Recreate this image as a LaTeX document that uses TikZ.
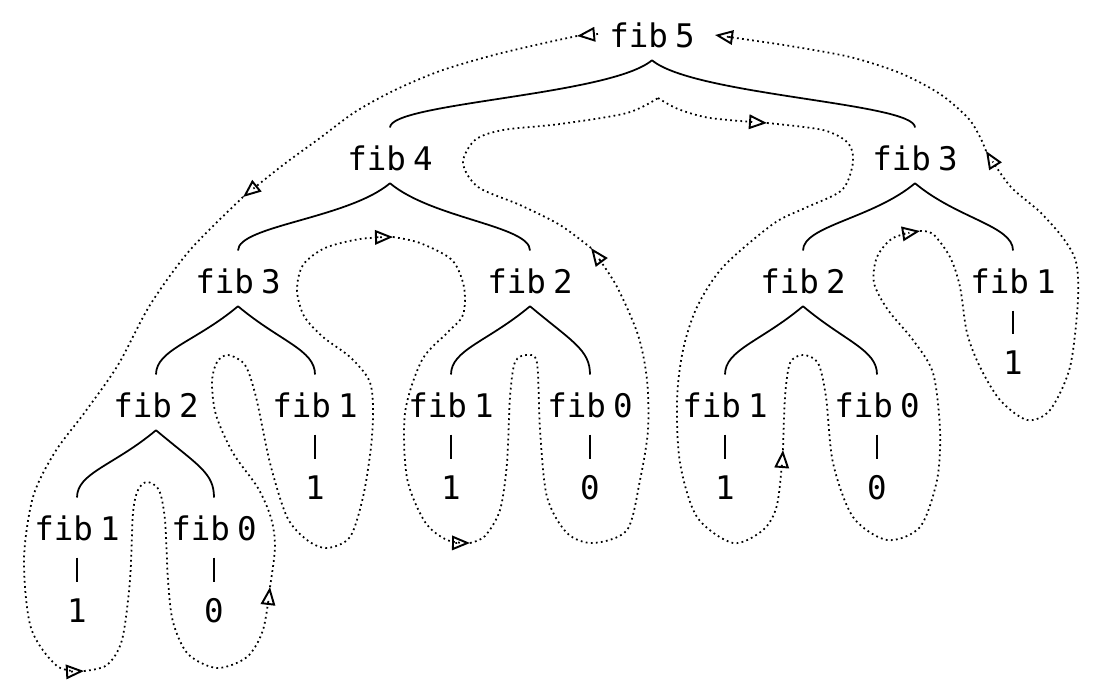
\documentclass[tikz,border=0pt]{standalone}
\usepackage{fontspec}
\setmonofont{DejaVu Sans Mono}
\usepackage{tikz}
\usetikzlibrary{arrows.meta}
\newcommand{\fib}[1]{fib\kern.22em\relax#1}

\tikzset{
  call/.style={font=\ttfamily\fontsize{18.5}{22}\selectfont, inner xsep=0pt, inner ysep=7pt},
  val/.style={call},
  brace/.style={line width=1pt, in=90, out distance=1.1cm, in distance=0.6cm, shorten >=3pt},
  bar/.style={line width=1pt, shorten <=2.5pt, shorten >=2.5pt},
  trace/.style={dash pattern=on 1pt off 1.9pt, line width=1pt,
    -{Triangle[open,length=3.6mm,width=2.9mm,line width=1.1pt]}}
}

\begin{document}
\begin{tikzpicture}[x=0.02cm,y=-0.02cm]
  \useasboundingbox (0,0) rectangle (1097,697);
  % calls
  \node[call] (t) at (652,35) {\fib{5}};
  \node[call] (tl) at (390,158) {\fib{4}};
  \node[call] (tr) at (915,158) {\fib{3}};
  \node[call] (tll) at (238,281) {\fib{3}};
  \node[call] (tlr) at (530,281) {\fib{2}};
  \node[call] (trl) at (803,281) {\fib{2}};
  \node[call] (trr) at (1013,281) {\fib{1}};
  \node[call] (tlll) at (156,405) {\fib{2}};
  \node[call] (tllr) at (315,405) {\fib{1}};
  \node[call] (tlrl) at (451,405) {\fib{1}};
  \node[call] (tlrr) at (590,405) {\fib{0}};
  \node[call] (trll) at (725,405) {\fib{1}};
  \node[call] (trlr) at (877,405) {\fib{0}};
  \node[call] (tllll) at (77,528) {\fib{1}};
  \node[call] (tlllr) at (214,528) {\fib{0}};
  % values
  \node[val] (vtrr) at (1013,363) {1};
  \node[val] (vtllr) at (315,488) {1};
  \node[val] (vtlrl) at (451,488) {1};
  \node[val] (vtlrr) at (590,488) {0};
  \node[val] (vtrll) at (725,488) {1};
  \node[val] (vtrlr) at (877,488) {0};
  \node[val] (vtllll) at (77,611) {1};
  \node[val] (vtlllr) at (214,611) {0};

  % branches
  \draw[brace] (t.south) to[out=-140] (tl.north);
  \draw[brace] (t.south) to[out=-40] (tr.north);
  \draw[brace] (tl.south) to[out=-140] (tll.north);
  \draw[brace] (tl.south) to[out=-40] (tlr.north);
  \draw[brace] (tr.south) to[out=-140] (trl.north);
  \draw[brace] (tr.south) to[out=-40] (trr.north);
  \draw[brace] (tll.south) to[out=-140] (tlll.north);
  \draw[brace] (tll.south) to[out=-40] (tllr.north);
  \draw[brace] (tlr.south) to[out=-140] (tlrl.north);
  \draw[brace] (tlr.south) to[out=-40] (tlrr.north);
  \draw[brace] (trl.south) to[out=-140] (trll.north);
  \draw[brace] (trl.south) to[out=-40] (trlr.north);
  \draw[brace] (tlll.south) to[out=-140] (tllll.north);
  \draw[brace] (tlll.south) to[out=-40] (tlllr.north);
  \draw[bar] (trr) -- (vtrr);
  \draw[bar] (tllr) -- (vtllr);
  \draw[bar] (tlrl) -- (vtlrl);
  \draw[bar] (tlrr) -- (vtlrr);
  \draw[bar] (trll) -- (vtrll);
  \draw[bar] (trlr) -- (vtrlr);
  \draw[bar] (tllll) -- (vtllll);
  \draw[bar] (tlllr) -- (vtlllr);

  % evaluation order
  \draw[trace] (598,34) -- (577,36);
  \draw[trace] plot[smooth] coordinates {(577,36) (540,44) (490,56) (440,71) (395,90)
    (355,112) (320,138) (283,165) (243,197)};
  \draw[trace] plot[smooth] coordinates {(243,197) (190,250) (150,305) (118,365) (85,412)
    (55,452) (33,497) (24,560) (31,628) (57,666) (84,671)};
  \draw[trace] plot[smooth] coordinates {(84,671) (107,665) (122,640) (130,580) (133,513)
    (138,490) (147,482) (159,490) (165,520) (168,580) (173,622) (188,654) (217,668)
    (247,657) (263,630) (270,587)};
  \draw[trace] plot[smooth] coordinates {(270,587) (275,547) (271,518) (258,488) (233,453)
    (216,415) (212,382) (217,362) (228,355) (245,365) (256,397) (270,463) (287,517)
    (307,540) (327,548) (350,537) (363,497) (371,447) (373,407) (369,380) (350,357)
    (323,337) (304,316) (297,290) (303,265) (325,248) (360,239) (393,237)};
  \draw[trace] plot[smooth] coordinates {(393,237) (420,243) (452,260) (464,287) (463,315)
    (448,332) (422,360) (405,413) (407,478) (425,522) (447,540) (470,543)};
  \draw[trace] plot[smooth] coordinates {(470,543) (485,536) (500,510) (507,463) (510,397)
    (515,362) (527,355) (537,363) (540,430) (547,497) (567,533) (593,543) (627,530)
    (640,480) (648,430) (647,380) (638,335) (616,285) (591,248)};
  \draw[trace] plot[smooth] coordinates {(591,248) (560,225) (520,205) (478,187) (463,163)
    (475,140) (503,130) (560,124) (627,113) (658,98)}
    plot[smooth] coordinates {(658,98) (678,109) (710,118) (767,123)};
  \draw[trace] plot[smooth] coordinates {(767,123) (823,130) (848,143) (853,162) (842,190)
    (805,208) (773,224) (723,267) (697,307) (683,350) (677,400) (680,463) (697,517)
    (733,543) (763,530) (777,505) (783,450)};
  \draw[trace] plot[smooth] coordinates {(783,450) (785,397) (790,363) (803,355) (818,363)
    (826,397) (833,463) (853,517) (887,540) (920,527) (937,480) (940,430) (933,373)
    (913,340) (888,310) (874,283) (877,257) (893,238) (920,231)};
  \draw[trace] plot[smooth] coordinates {(920,231) (933,234) (950,257) (960,287) (967,333)
    (980,367) (1000,400) (1027,420) (1050,410) (1070,367) (1078,300) (1076,262)
    (1063,238) (1040,212) (1010,186) (986,151)};
  \draw[trace] plot[smooth] coordinates {(986,151) (980,137) (968,118) (940,94) (900,73)
    (850,57) (790,46) (750,40) (715,35)};
\end{tikzpicture}
\end{document}
